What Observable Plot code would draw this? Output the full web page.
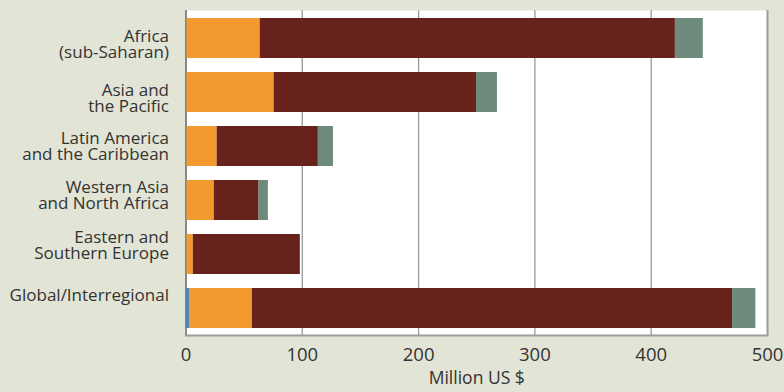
<!DOCTYPE html>
<html>
<head>
<meta charset="utf-8">
<script src="https://cdn.jsdelivr.net/npm/d3@7"></script>
<script src="https://cdn.jsdelivr.net/npm/@observablehq/plot@0.6"></script>
<style>
  html, body { margin: 0; padding: 0; background: #E2E4D6; }
  #chart { width: 784px; height: 392px; }
</style>
</head>
<body>
<div id="chart"></div>
<script>
// Regions (top to bottom) and their axis labels
const regions = [
  "Africa (sub-Saharan)",
  "Asia and the Pacific",
  "Latin America and the Caribbean",
  "Western Asia and North Africa",
  "Eastern and Southern Europe",
  "Global/Interregional"
];
const regionLabels = [
  "Africa\n(sub-Saharan)",
  "Asia and\nthe Pacific",
  "Latin America\nand the Caribbean",
  "Western Asia\nand North Africa",
  "Eastern and\nSouthern Europe",
  "Global/Interregional"
];

// Stacked components, million US $
const series = ["A", "B", "C", "D"];
const valuesA = [0.8, 0.8, 0.8, 0.8, 0.8, 3];
const valuesB = [63, 75, 26, 23.5, 5.5, 54];
const valuesC = [357, 174, 87, 38.5, 92, 413];
const valuesD = [24, 18, 13, 8, 0, 20];

const xTicks = [0, 100, 200, 300, 400, 500];

const columns = [valuesA, valuesB, valuesC, valuesD];
const rows = [];
regions.forEach((r, i) => {
  series.forEach((s, j) => rows.push({region: r, series: s, value: columns[j][i]}));
});

const labelOf = new Map(regions.map((r, i) => [r, regionLabels[i]]));

// Vertical nudge of each region label relative to its bar (px)
const labelNudge = [6.5, 6, 0, -4.8, -8.3, -13];
const regionAxes = regions.map((r, i) => Plot.axisY([r], {
  tickSize: 0,
  tickPadding: 17,
  tickFormat: d => labelOf.get(d),
  fontSize: 17,
  lineHeight: 0.94,
  dy: labelNudge[i],
  label: null
}));

const chart = Plot.plot({
  width: 784,
  height: 392,
  marginLeft: 185.5,
  marginRight: 17,
  marginTop: 10,
  marginBottom: 57,
  style: {background: "#E2E4D6", fontFamily: "'Open Sans', sans-serif", color: "#333"},
  x: {domain: [0, 500], ticks: xTicks},
  y: {domain: regions, paddingInner: 0.26, paddingOuter: 0.13},
  color: {domain: series, range: ["#4B86B8", "#F39A2F", "#67231B", "#6E8A7C"]},
  marks: [
    Plot.frame({fill: "white", stroke: null}),
    Plot.gridX(xTicks.slice(1, -1), {stroke: "#9a9a9a", strokeOpacity: 1, strokeWidth: 1.3}),
    Plot.ruleX([500], {stroke: "#9a9c9e", strokeWidth: 2}),
    Plot.frame({anchor: "bottom", stroke: "#9a9c9e", strokeWidth: 2}),
    Plot.ruleX([0], {stroke: "#888a8c", strokeWidth: 2}),
    Plot.barX(rows, {x: "value", y: "region", fill: "series", insetLeft: 0, insetRight: 0}),
    ...regionAxes,
    Plot.axisX(xTicks, {
      tickSize: 0,
      tickPadding: 12,
      fontSize: 18.5,
      label: null
    }),
    Plot.axisX({
      ticks: [],
      tickSize: 0,
      label: "Million US $",
      labelAnchor: "center",
      labelArrow: "none",
      labelOffset: 48,
      fontSize: 17.5
    })
  ]
});

document.getElementById("chart").appendChild(chart);
</script>
</body>
</html>
